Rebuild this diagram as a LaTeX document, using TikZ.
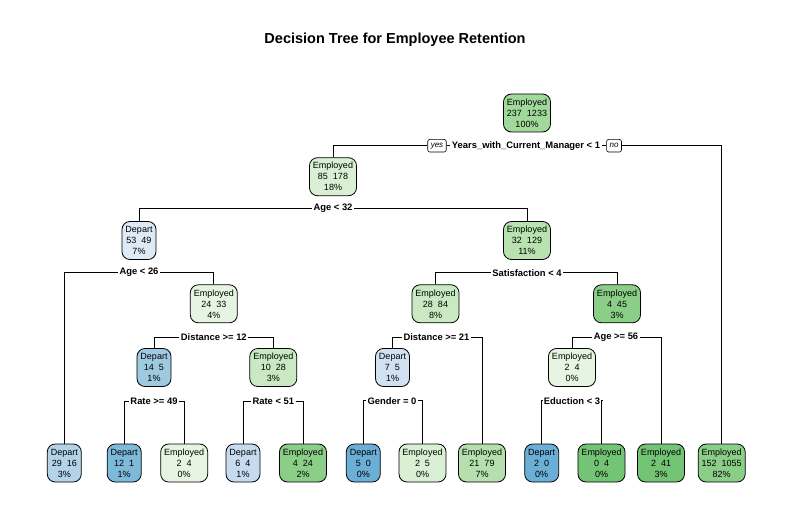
\documentclass[tikz,border=0pt]{standalone}
\usepackage{fontspec}
\setmainfont{Liberation Sans}
\definecolor{gA}{HTML}{A1D99B}
\definecolor{gB}{HTML}{DAF0D4}
\definecolor{gC}{HTML}{B8E2B0}
\definecolor{gD}{HTML}{E6F5E1}
\definecolor{gE}{HTML}{C8E9C1}
\definecolor{gF}{HTML}{8ACE88}
\definecolor{gG}{HTML}{74C476}
\definecolor{gH}{HTML}{B5E0AD}
\definecolor{bA}{HTML}{DEEBF7}
\definecolor{bB}{HTML}{9ECAE1}
\definecolor{bC}{HTML}{D0E1F2}
\definecolor{bD}{HTML}{B3D3E9}
\definecolor{bE}{HTML}{7EB9DA}
\definecolor{bF}{HTML}{C6DBEF}
\definecolor{bG}{HTML}{6BAED6}
\def\ly{463}
\def\iy{303.8}
\def\jy{367.5}

\begin{document}
\begin{tikzpicture}[x=1pt,y=-1pt,line width=0.8pt,
  box/.style={draw,rounded corners=8pt,align=center,minimum height=38pt,inner xsep=3.5pt,inner ysep=1pt,font=\fontsize{9}{11}\selectfont},
  split/.style={fill=white,inner sep=1.2pt,font=\fontsize{9.4}{10}\selectfont\bfseries},
  yn/.style={draw,fill=white,rounded corners=2pt,line width=0.6pt,inner xsep=3pt,inner ysep=1pt,minimum height=12.5pt,font=\fontsize{8}{8}\selectfont\itshape}]
\useasboundingbox (0,0) rectangle (792,516);
\node[font=\fontsize{14.5}{16}\selectfont\bfseries] (title) at (395,40) {Decision Tree for Employee Retention};
% nodes
\node[box,fill=gA] (root) at (527,113) {Employed\\237\ \ 1233\\100\%};
\node[box,fill=gB] (n2) at (333,176.7) {Employed\\85\ \ 178\\18\%};
\node[box,fill=bA] (n4) at (139,240.5) {Depart\\53\ \ 49\\7\%};
\node[box,fill=gC] (n5) at (527,240.5) {Employed\\32\ \ 129\\11\%};
\node[box,fill=gD] (n9) at (213.8,\iy) {Employed\\24\ \ 33\\4\%};
\node[box,fill=gE] (n10) at (435.5,\iy) {Employed\\28\ \ 84\\8\%};
\node[box,fill=gF] (n11) at (617,\iy) {Employed\\4\ \ 45\\3\%};
\node[box,fill=bB] (n18) at (154,\jy) {Depart\\14\ \ 5\\1\%};
\node[box,fill=gE] (n19) at (273.3,\jy) {Employed\\10\ \ 28\\3\%};
\node[box,fill=bC] (n20) at (392.5,\jy) {Depart\\7\ \ 5\\1\%};
\node[box,fill=gD] (n22) at (572,\jy) {Employed\\2\ \ 4\\0\%};
% leaves
\node[box,fill=bD] (l8) at (64.3,\ly) {Depart\\29\ \ 16\\3\%};
\node[box,fill=bE] (l36) at (124.2,\ly) {Depart\\12\ \ 1\\1\%};
\node[box,fill=gD] (l37) at (184.2,\ly) {Employed\\2\ \ 4\\0\%};
\node[box,fill=bF] (l38) at (243,\ly) {Depart\\6\ \ 4\\1\%};
\node[box,fill=gF] (l39) at (303,\ly) {Employed\\4\ \ 24\\2\%};
\node[box,fill=bG] (l40) at (363.3,\ly) {Depart\\5\ \ 0\\0\%};
\node[box,fill=gB] (l41) at (422.5,\ly) {Employed\\2\ \ 5\\0\%};
\node[box,fill=gH] (l21) at (482,\ly) {Employed\\21\ \ 79\\7\%};
\node[box,fill=bG] (l44) at (541.7,\ly) {Depart\\2\ \ 0\\0\%};
\node[box,fill=gG] (l45) at (601.5,\ly) {Employed\\0\ \ 4\\0\%};
\node[box,fill=gG] (l23) at (661,\ly) {Employed\\2\ \ 41\\3\%};
\node[box,fill=gF] (l3) at (721.7,\ly) {Employed\\152\ \ 1055\\82\%};
% split labels
\node[split] (s1) at (526,145.7) {Years\_with\_Current\_Manager < 1};
\node[yn] (yes) at (437,145.7) {yes};
\node[yn] (no) at (614,145.7) {no};
\node[split] (s2) at (333,208.3) {Age < 32};
\node[split] (s4) at (139,272.7) {Age < 26};
\node[split] (s5) at (527,272.7) {Satisfaction < 4};
\node[split] (s9) at (213.8,337.5) {Distance >= 12};
\node[split] (s10) at (436.5,337.5) {Distance >= 21};
\node[split] (s11) at (616,337.5) {Age >= 56};
\node[split] (s18) at (154,401) {Rate >= 49};
\node[split] (s19) at (273.3,401) {Rate < 51};
\node[split] (s20) at (392,400.7) {Gender = 0};
\node[split] (s22) at (572,400.7) {Eduction < 3};
% branches
\draw (n2.north) |- (yes.west);
\draw (yes.east) -- (s1.west);
\draw (s1.east) -- (no.west);
\draw (no.east) -| (l3.north);
\draw (n4.north) |- (s2.west);
\draw (s2.east) -| (n5.north);
\draw (l8.north) |- (s4.west);
\draw (s4.east) -| (n9.north);
\draw (n10.north) |- (s5.west);
\draw (s5.east) -| (n11.north);
\draw (n18.north) |- (s9.west);
\draw (s9.east) -| (n19.north);
\draw (n20.north) |- (s10.west);
\draw (s10.east) -| (l21.north);
\draw (n22.north) |- (s11.west);
\draw (s11.east) -| (l23.north);
\draw (l36.north) |- (s18.west);
\draw (s18.east) -| (l37.north);
\draw (l38.north) |- (s19.west);
\draw (s19.east) -| (l39.north);
\draw (l40.north) |- (s20.west);
\draw (s20.east) -| (l41.north);
\draw (l44.north) |- (s22.west);
\draw (s22.east) -| (l45.north);
\end{tikzpicture}
\end{document}
